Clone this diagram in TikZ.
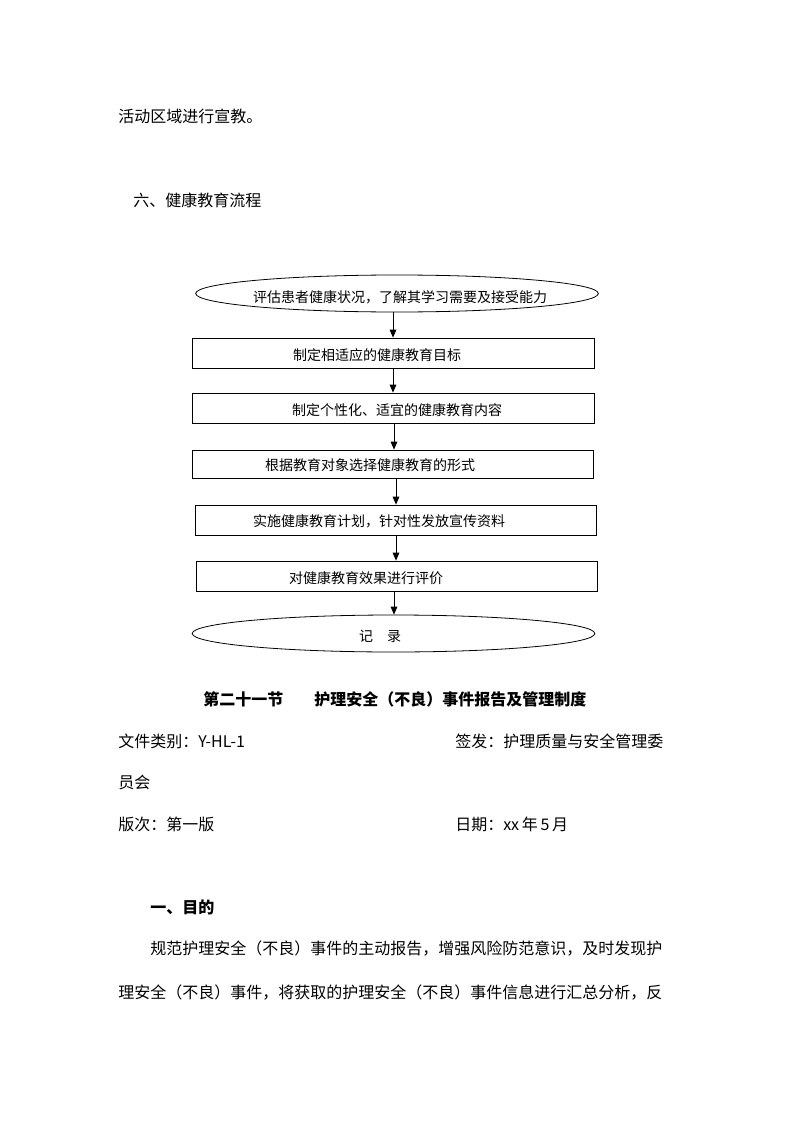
\documentclass[tikz,border=0pt]{standalone}
\usepackage{fontspec}
\setmainfont{Noto Sans CJK SC}
\usetikzlibrary{shapes.geometric,arrows.meta}
\begin{document}
\begin{tikzpicture}[x=0.75pt,y=-0.75pt,
  txt/.style={anchor=west,inner sep=0pt,font=\fontsize{12}{14}\selectfont},
  hd/.style={anchor=west,inner sep=0pt,font=\fontsize{12}{14}\selectfont\bfseries},
  ft/.style={inner sep=0pt,font=\fontsize{10.5}{12}\selectfont},
  stepbox/.style={draw,line width=0.6pt,inner sep=0pt,minimum width=301.5pt,minimum height=22.5pt},
  termin/.style={draw,ellipse,line width=0.6pt,inner sep=0pt,minimum width=302pt,minimum height=27.75pt},
  arr/.style={line width=0.6pt,-{Triangle[length=6pt,width=5pt]}}
]
\useasboundingbox[fill=white] (0,0) rectangle (794,1123);

% preceding text
\node[txt] (p0) at (118,116) {活动区域进行宣教。};
\node[txt] (h6) at (133,200) {六、健康教育流程};

% flowchart shapes
\node[termin] (e1) at (397,293.5) {};
\node[stepbox] (b1) at (393,353) {};
\node[stepbox] (b2) at (393,408) {};
\node[stepbox,minimum height=21pt,minimum width=300.75pt] (b3) at (392.5,464) {};
\node[stepbox,minimum width=300.75pt] (b4) at (395.5,520) {};
\node[stepbox,minimum width=300.75pt] (b5) at (396.5,576) {};
\node[termin] (e2) at (393.5,633.5) {};

% flowchart texts
\node[ft] (t0) at (400,297) {评估患者健康状况，了解其学习需要及接受能力};
\node[ft] (t1) at (377,355) {制定相适应的健康教育目标};
\node[ft] (t2) at (397,410) {制定个性化、适宜的健康教育内容};
\node[ft] (t3) at (370,465) {根据教育对象选择健康教育的形式};
\node[ft] (t4) at (379,521) {实施健康教育计划，针对性发放宣传资料};
\node[ft] (t5) at (366,578) {对健康教育效果进行评价};
\node[ft] (t6) at (380,636) {记　录};

% arrow guide coordinates
\coordinate (a1) at (393,0);
\coordinate (a2) at (393,0);
\coordinate (a3) at (394,0);
\coordinate (a4) at (396,0);
\coordinate (a5) at (396,0);
\coordinate (a6) at (394,0);

\draw[arr] (e1.south -| a1) -- (b1.north -| a1);
\draw[arr] (b1.south -| a2) -- (b2.north -| a2);
\draw[arr] (b2.south -| a3) -- (b3.north -| a3);
\draw[arr] (b3.south -| a4) -- (b4.north -| a4);
\draw[arr] (b4.south -| a5) -- (b5.north -| a5);
\draw[arr] (b5.south -| a6) -- (e2.north -| a6);

% following text
\node[hd] (s1) at (203,699) {第二十一节};
\node[hd] (s2) at (314,699) {护理安全（不良）事件报告及管理制度};
\node[txt] (m1) at (118,741) {文件类别：Y-HL-1};
\node[txt] (m2) at (455,741) {签发：护理质量与安全管理委};
\node[txt] (m3) at (118,782) {员会};
\node[txt] (m4) at (118,824) {版次：第一版};
\node[txt] (m5) at (455,824) {日期：xx\,年\,5\,月};
\node[hd] (g1) at (150,907) {一、目的};
\node[txt] (g2) at (150,948) {规范护理安全（不良）事件的主动报告，增强风险防范意识，及时发现护};
\node[txt] (g3) at (118,992) {理安全（不良）事件，将获取的护理安全（不良）事件信息进行汇总分析，反};
\end{tikzpicture}
\end{document}
